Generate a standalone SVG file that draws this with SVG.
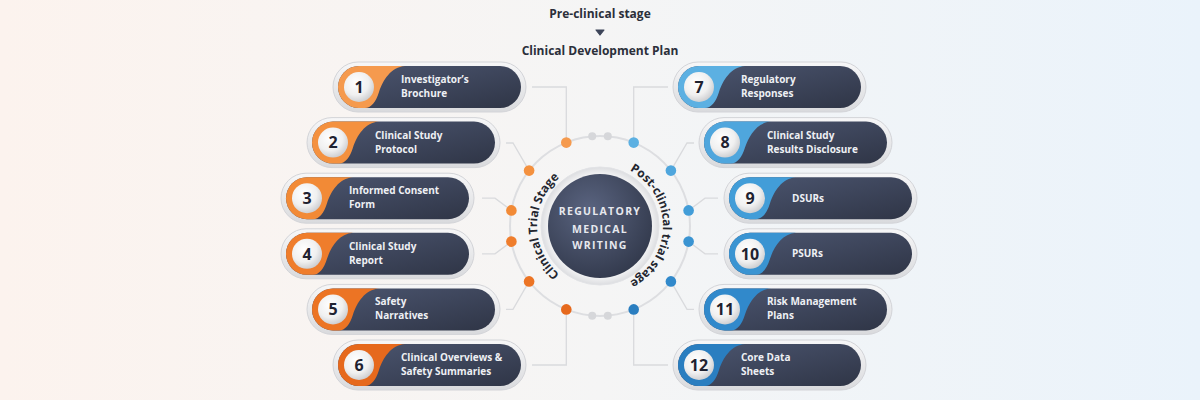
<svg xmlns="http://www.w3.org/2000/svg" width="1200" height="400" viewBox="0 0 1200 400">
<defs>
<linearGradient id="bg" x1="0" y1="0" x2="1" y2="0">
<stop offset="0" stop-color="#fcf3ee"/><stop offset="0.5" stop-color="#f5f5f5"/><stop offset="1" stop-color="#eaf3fb"/>
</linearGradient>
<linearGradient id="pillDark" x1="0" y1="0" x2="1" y2="1">
<stop offset="0" stop-color="#4c5670"/><stop offset="0.5" stop-color="#3e465c"/><stop offset="1" stop-color="#2f3546"/>
</linearGradient>
<linearGradient id="pillOuter" x1="0" y1="0" x2="0" y2="1">
<stop offset="0" stop-color="#f7f7f8"/><stop offset="1" stop-color="#d9dadd"/>
</linearGradient>
<radialGradient id="ball" cx="0.4" cy="0.35" r="0.7">
<stop offset="0" stop-color="#ffffff"/><stop offset="0.6" stop-color="#f0f0f0"/><stop offset="1" stop-color="#c9cacd"/>
</radialGradient>
<radialGradient id="core" cx="0.4" cy="0.35" r="0.75">
<stop offset="0" stop-color="#5a6480"/><stop offset="1" stop-color="#2f3648"/>
</radialGradient>
<radialGradient id="halo" cx="0.5" cy="0.5" r="0.5">
<stop offset="0.8" stop-color="#ffffff"/><stop offset="1" stop-color="#dcdde0"/>
</radialGradient>
<path id="arcL" d="M 589.06 288.04 A 63 63 0 0 1 589.06 163.96"/>
<path id="arcR" d="M 610.94 163.96 A 63 63 0 0 1 610.94 288.04"/>
</defs>
<style>
.title{font-family:"Open Sans","Liberation Sans",sans-serif;font-weight:700;font-size:12px;fill:#2b2f3a;text-anchor:middle}
.outer{fill:url(#pillOuter);stroke:#d3d4d8;stroke-width:1}
.inner{fill:url(#pillDark)}
.ballc{fill:url(#ball)}
.num{font-family:"Open Sans","Liberation Sans",sans-serif;font-weight:700;font-size:16px;fill:#1f2230;text-anchor:middle}
.lbl{font-family:"Open Sans","Liberation Sans",sans-serif;font-weight:700;font-size:10px;fill:#eef0f4}
.conn{fill:none;stroke:#d9dadd;stroke-width:1.3}
.ring{fill:none;stroke:#dddee1;stroke-width:2}
.ctext{font-family:"Open Sans","Liberation Sans",sans-serif;font-weight:700;font-size:10.5px;fill:#e6e8ee;text-anchor:middle;letter-spacing:1.3px}
.arc{font-family:"Open Sans","Liberation Sans",sans-serif;font-weight:700;font-size:12px;fill:#23262f}
.gdot{fill:#d6d7da}
</style>
<rect width="1200" height="400" fill="url(#bg)"/>

<g id="header">
<text class="title" x="600" y="18">Pre-clinical stage</text>
<path d="M 596 30 L 604 30 L 600 35 Z" fill="#3d4559" stroke="#3d4559" stroke-width="1.2" stroke-linejoin="round"/>
<text class="title" x="600" y="55">Clinical Development Plan</text>
</g>

<g id="connectors">
<circle class="ring" cx="600" cy="226" r="90"/>
<path class="conn" d="M 532 87 H 566.3 V 142.6"/>
<path class="conn" d="M 506 143 H 513 L 529.1 170.6"/>
<path class="conn" d="M 482 198.2 H 495 L 511.4 210.4"/>
<path class="conn" d="M 482 253.8 H 495 L 511.4 241.6"/>
<path class="conn" d="M 506 309.4 H 513 L 529.1 281.4"/>
<path class="conn" d="M 532 365 H 566.3 V 309.4"/>
<path class="conn" d="M 668 87 H 633.7 V 142.6"/>
<path class="conn" d="M 694 143 H 687 L 670.9 170.6"/>
<path class="conn" d="M 718 198.2 H 705 L 688.6 210.4"/>
<path class="conn" d="M 718 253.8 H 705 L 688.6 241.6"/>
<path class="conn" d="M 694 309.4 H 687 L 670.9 281.4"/>
<path class="conn" d="M 668 365 H 633.7 V 309.4"/>
</g>

<g id="dots">
<circle cx="566.3" cy="142.6" r="5.3" fill="#f59a4e"/>
<circle cx="529.1" cy="170.6" r="5.3" fill="#f4913f"/>
<circle cx="511.4" cy="210.4" r="5.3" fill="#f28a36"/>
<circle cx="511.4" cy="241.6" r="5.3" fill="#ef7d2c"/>
<circle cx="529.1" cy="281.4" r="5.3" fill="#ec7424"/>
<circle cx="566.3" cy="309.4" r="5.3" fill="#e6691d"/>
<circle cx="633.7" cy="142.6" r="5.3" fill="#5cb0e2"/>
<circle cx="670.9" cy="170.6" r="5.3" fill="#4fa6dd"/>
<circle cx="688.6" cy="210.4" r="5.3" fill="#429dd8"/>
<circle cx="688.6" cy="241.6" r="5.3" fill="#3a94d2"/>
<circle cx="670.9" cy="281.4" r="5.3" fill="#3189cb"/>
<circle cx="633.7" cy="309.4" r="5.3" fill="#2a7ec0"/>
<circle class="gdot" cx="592.2" cy="136.3" r="4"/>
<circle class="gdot" cx="607.8" cy="136.3" r="4"/>
<circle class="gdot" cx="592.2" cy="315.7" r="4"/>
<circle class="gdot" cx="607.8" cy="315.7" r="4"/>
</g>

<g id="center">
<circle cx="600" cy="226" r="59" fill="url(#halo)" stroke="#e2e3e6" stroke-width="1"/>
<circle cx="600" cy="226" r="52" fill="url(#core)"/>
<text class="ctext" x="600" y="215">REGULATORY</text>
<text class="ctext" x="600" y="232.5">MEDICAL</text>
<text class="ctext" x="600" y="249">WRITING</text>
<text class="arc"><textPath href="#arcL" startOffset="50%" text-anchor="middle">Clinical Trial Stage</textPath></text>
<text class="arc"><textPath href="#arcR" startOffset="50%" text-anchor="middle">Post-clinical trial stage</textPath></text>
</g>

<g id="node-1" transform="translate(333,62)">
<rect class="outer" x="0" y="0" width="193" height="50" rx="25"/>
<rect class="inner" x="5" y="4" width="183" height="42" rx="21"/>
<path d="M 26 4 H 72 C 58 5 50 18 46 30 C 43 40 38 46 32 46 H 26 A 21 21 0 0 1 26 4 Z" fill="#f59a4e"/>
<circle class="ballc" cx="26" cy="25" r="15"/>
<text class="num" x="26" y="30.8">1</text>
<text class="lbl" x="68" y="21">Investigator’s</text>
<text class="lbl" x="68" y="35">Brochure</text>
</g>
<g id="node-2" transform="translate(307,117.6)">
<rect class="outer" x="0" y="0" width="193" height="50" rx="25"/>
<rect class="inner" x="5" y="4" width="183" height="42" rx="21"/>
<path d="M 26 4 H 72 C 58 5 50 18 46 30 C 43 40 38 46 32 46 H 26 A 21 21 0 0 1 26 4 Z" fill="#f4913f"/>
<circle class="ballc" cx="26" cy="25" r="15"/>
<text class="num" x="26" y="30.8">2</text>
<text class="lbl" x="68" y="21">Clinical Study</text>
<text class="lbl" x="68" y="35">Protocol</text>
</g>
<g id="node-3" transform="translate(281,173.2)">
<rect class="outer" x="0" y="0" width="193" height="50" rx="25"/>
<rect class="inner" x="5" y="4" width="183" height="42" rx="21"/>
<path d="M 26 4 H 72 C 58 5 50 18 46 30 C 43 40 38 46 32 46 H 26 A 21 21 0 0 1 26 4 Z" fill="#f28a36"/>
<circle class="ballc" cx="26" cy="25" r="15"/>
<text class="num" x="26" y="30.8">3</text>
<text class="lbl" x="68" y="21">Informed Consent</text>
<text class="lbl" x="68" y="35">Form</text>
</g>
<g id="node-4" transform="translate(281,228.8)">
<rect class="outer" x="0" y="0" width="193" height="50" rx="25"/>
<rect class="inner" x="5" y="4" width="183" height="42" rx="21"/>
<path d="M 26 4 H 72 C 58 5 50 18 46 30 C 43 40 38 46 32 46 H 26 A 21 21 0 0 1 26 4 Z" fill="#ef7d2c"/>
<circle class="ballc" cx="26" cy="25" r="15"/>
<text class="num" x="26" y="30.8">4</text>
<text class="lbl" x="68" y="21">Clinical Study</text>
<text class="lbl" x="68" y="35">Report</text>
</g>
<g id="node-5" transform="translate(307,284.4)">
<rect class="outer" x="0" y="0" width="193" height="50" rx="25"/>
<rect class="inner" x="5" y="4" width="183" height="42" rx="21"/>
<path d="M 26 4 H 72 C 58 5 50 18 46 30 C 43 40 38 46 32 46 H 26 A 21 21 0 0 1 26 4 Z" fill="#ec7424"/>
<circle class="ballc" cx="26" cy="25" r="15"/>
<text class="num" x="26" y="30.8">5</text>
<text class="lbl" x="68" y="21">Safety</text>
<text class="lbl" x="68" y="35">Narratives</text>
</g>
<g id="node-6" transform="translate(333,340)">
<rect class="outer" x="0" y="0" width="193" height="50" rx="25"/>
<rect class="inner" x="5" y="4" width="183" height="42" rx="21"/>
<path d="M 26 4 H 72 C 58 5 50 18 46 30 C 43 40 38 46 32 46 H 26 A 21 21 0 0 1 26 4 Z" fill="#e6691d"/>
<circle class="ballc" cx="26" cy="25" r="15"/>
<text class="num" x="26" y="30.8">6</text>
<text class="lbl" x="68" y="21">Clinical Overviews &amp;</text>
<text class="lbl" x="68" y="35">Safety Summaries</text>
</g>

<g id="node-7" transform="translate(673,62)">
<rect class="outer" x="0" y="0" width="193" height="50" rx="25"/>
<rect class="inner" x="5" y="4" width="183" height="42" rx="21"/>
<path d="M 26 4 H 72 C 58 5 50 18 46 30 C 43 40 38 46 32 46 H 26 A 21 21 0 0 1 26 4 Z" fill="#5cb0e2"/>
<circle class="ballc" cx="26" cy="25" r="15"/>
<text class="num" x="26" y="30.8">7</text>
<text class="lbl" x="68" y="21">Regulatory</text>
<text class="lbl" x="68" y="35">Responses</text>
</g>
<g id="node-8" transform="translate(699,117.6)">
<rect class="outer" x="0" y="0" width="193" height="50" rx="25"/>
<rect class="inner" x="5" y="4" width="183" height="42" rx="21"/>
<path d="M 26 4 H 72 C 58 5 50 18 46 30 C 43 40 38 46 32 46 H 26 A 21 21 0 0 1 26 4 Z" fill="#4fa6dd"/>
<circle class="ballc" cx="26" cy="25" r="15"/>
<text class="num" x="26" y="30.8">8</text>
<text class="lbl" x="68" y="21">Clinical Study</text>
<text class="lbl" x="68" y="35">Results Disclosure</text>
</g>
<g id="node-9" transform="translate(724,173.2)">
<rect class="outer" x="0" y="0" width="193" height="50" rx="25"/>
<rect class="inner" x="5" y="4" width="183" height="42" rx="21"/>
<path d="M 26 4 H 72 C 58 5 50 18 46 30 C 43 40 38 46 32 46 H 26 A 21 21 0 0 1 26 4 Z" fill="#429dd8"/>
<circle class="ballc" cx="26" cy="25" r="15"/>
<text class="num" x="26" y="30.8">9</text>
<text class="lbl" x="68" y="28.5">DSURs</text>
</g>
<g id="node-10" transform="translate(724,228.8)">
<rect class="outer" x="0" y="0" width="193" height="50" rx="25"/>
<rect class="inner" x="5" y="4" width="183" height="42" rx="21"/>
<path d="M 26 4 H 72 C 58 5 50 18 46 30 C 43 40 38 46 32 46 H 26 A 21 21 0 0 1 26 4 Z" fill="#3a94d2"/>
<circle class="ballc" cx="26" cy="25" r="15"/>
<text class="num" x="26" y="30.8">10</text>
<text class="lbl" x="68" y="28.5">PSURs</text>
</g>
<g id="node-11" transform="translate(699,284.4)">
<rect class="outer" x="0" y="0" width="193" height="50" rx="25"/>
<rect class="inner" x="5" y="4" width="183" height="42" rx="21"/>
<path d="M 26 4 H 72 C 58 5 50 18 46 30 C 43 40 38 46 32 46 H 26 A 21 21 0 0 1 26 4 Z" fill="#3189cb"/>
<circle class="ballc" cx="26" cy="25" r="15"/>
<text class="num" x="26" y="30.8">11</text>
<text class="lbl" x="68" y="21">Risk Management</text>
<text class="lbl" x="68" y="35">Plans</text>
</g>
<g id="node-12" transform="translate(673,340)">
<rect class="outer" x="0" y="0" width="193" height="50" rx="25"/>
<rect class="inner" x="5" y="4" width="183" height="42" rx="21"/>
<path d="M 26 4 H 72 C 58 5 50 18 46 30 C 43 40 38 46 32 46 H 26 A 21 21 0 0 1 26 4 Z" fill="#2a7ec0"/>
<circle class="ballc" cx="26" cy="25" r="15"/>
<text class="num" x="26" y="30.8">12</text>
<text class="lbl" x="68" y="21">Core Data</text>
<text class="lbl" x="68" y="35">Sheets</text>
</g>
</svg>
